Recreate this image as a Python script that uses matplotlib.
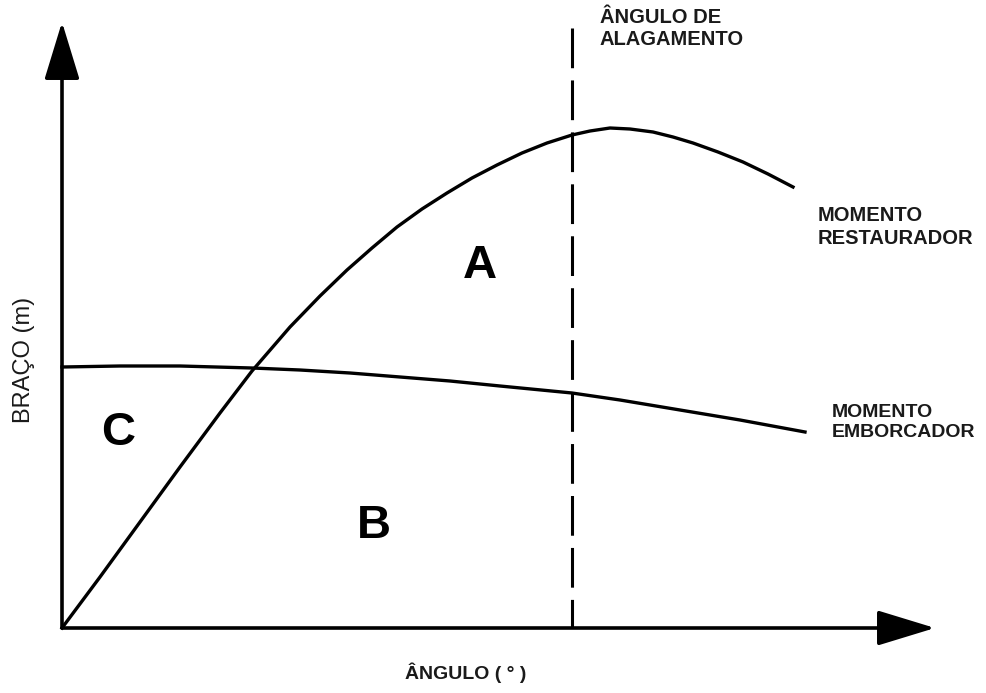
import numpy as np
import matplotlib.pyplot as plt

plt.rcParams['font.family'] = ['Liberation Sans', 'DejaVu Sans']

# schematic, coordinates (pixel units, y down)
origin = (62, 628)
x_tip = 935
y_tip = 22
flood_x = 572

restoring_x = [62, 100, 140, 180, 220, 252, 290, 320, 347, 372, 397, 422, 447, 472,
               497, 522, 547, 572, 590, 610, 630, 653, 673, 693, 718, 743, 768, 793]
restoring_y = [628, 577, 522, 467, 413, 371, 327, 296, 270, 248, 227, 209, 193, 178,
               165, 153, 143, 135, 131, 128, 129, 132, 137, 143, 152, 162, 174, 187]

heeling_x = [62, 120, 180, 252, 300, 350, 400, 450, 500, 572, 620, 680, 740, 805]
heeling_y = [367, 366, 366, 368, 370, 373, 377, 381, 386, 393, 400, 410, 420, 432]

fig = plt.figure(figsize=(9.86, 6.93), dpi=100)
ax = fig.add_axes([0, 0, 1, 1])
ax.set_xlim(0, 986)
ax.set_ylim(693, 0)
ax.axis('off')

arrow = dict(arrowstyle='-|>,head_length=3.6,head_width=1.1', color='black',
             lw=2.6, mutation_scale=10, shrinkA=0, shrinkB=0)
ax.annotate('', xy=(origin[0], y_tip), xytext=origin, arrowprops=arrow)
ax.annotate('', xy=(x_tip, origin[1]), xytext=origin, arrowprops=arrow)

ax.plot(restoring_x, restoring_y, color='black', lw=2.4, solid_joinstyle='round')
ax.plot(heeling_x, heeling_y, color='black', lw=2.4, solid_joinstyle='round')
ax.plot([flood_x, flood_x], [28, origin[1]], color='black', lw=2.2,
        dashes=(13, 4))

bold = dict(fontweight='bold', color='#1a1a1a')
ax.text(600, 8, 'ÂNGULO DE\nALAGAMENTO', fontsize=14.5, va='top', ha='left',
        linespacing=1.2, **bold)
ax.text(818, 206, 'MOMENTO\nRESTAURADOR', fontsize=14.5, va='top', ha='left',
        linespacing=1.25, **bold)
ax.text(832, 404, 'MOMENTO\nEMBORCADOR', fontsize=14, va='top', ha='left',
        linespacing=1.25, **bold)

big = dict(fontsize=34, fontweight='bold', ha='center', va='center')
ax.text(480, 266, 'A', **big)
ax.text(374, 526, 'B', **big)
ax.text(118, 433, 'C', **big)

ax.text(466, 673, 'ÂNGULO ( ° )', fontsize=14, ha='center', va='center', **bold)
ax.text(24, 360, 'BRAÇO (m)', fontsize=17, rotation=90, ha='center', va='center',
        color='#1a1a1a')

plt.savefig('out.png', dpi=100)
